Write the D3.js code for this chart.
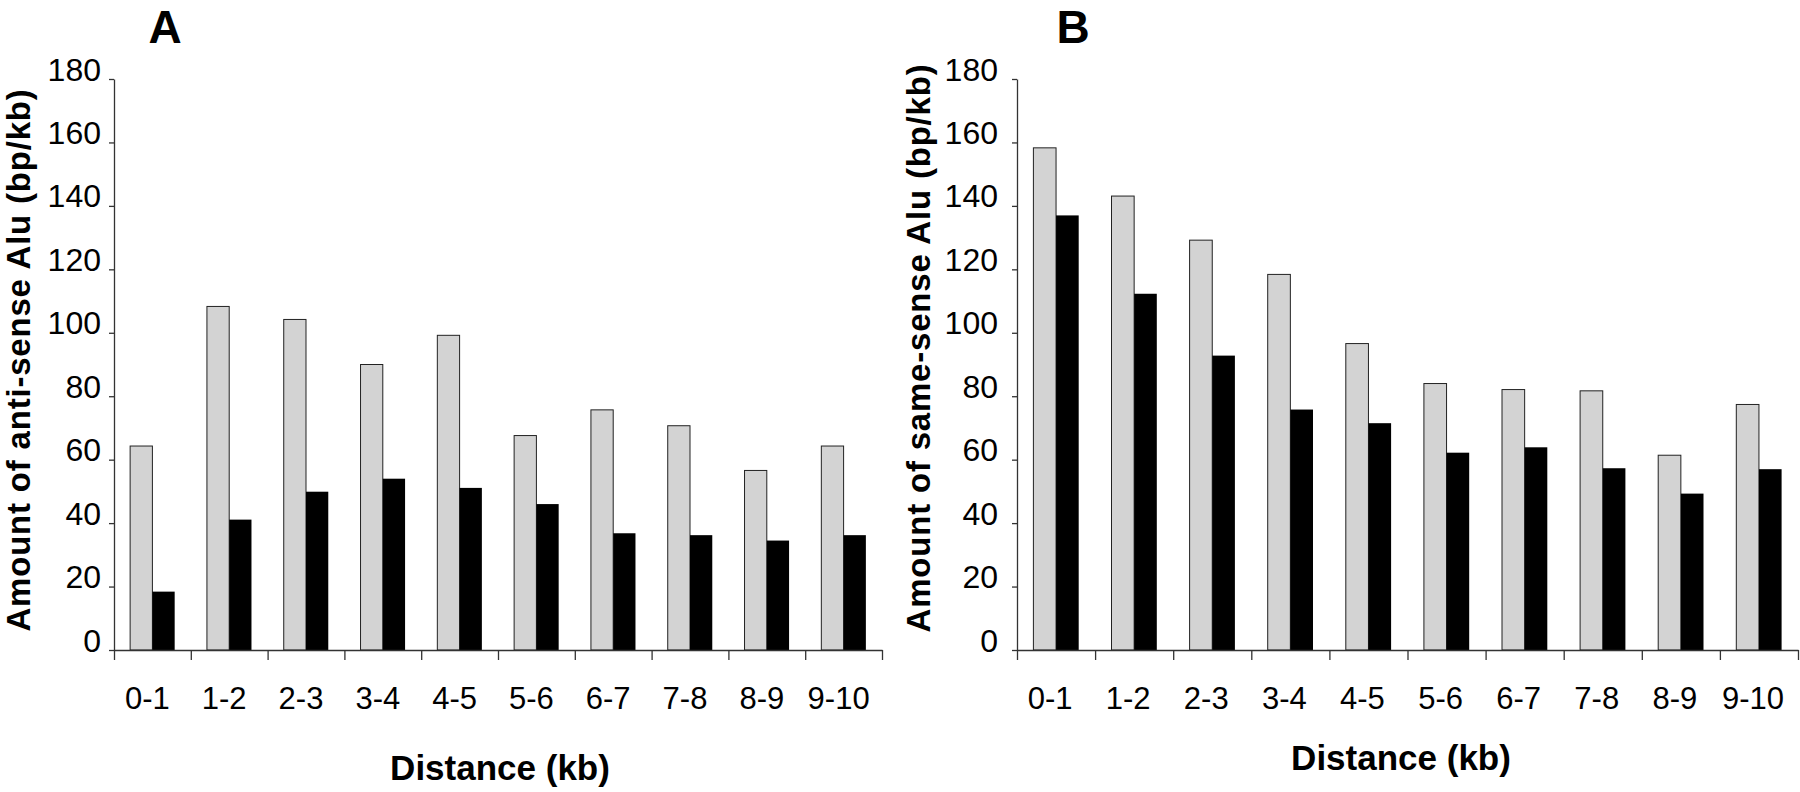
<!DOCTYPE html>
<html>
<head>
<meta charset="utf-8">
<script src="https://cdn.jsdelivr.net/npm/d3@7"></script>
<style>
  html, body { margin: 0; padding: 0; background: #fff; }
  svg text { fill: #000; font-family: "Liberation Sans", Arial, Helvetica, sans-serif; }
  .ylbl { font-size: 32px; }
  .xlbl { font-size: 31px; }
  .ttl { font-weight: bold; }
</style>
</head>
<body>
<svg id="chart" width="1800" height="792"></svg>
<script>
// distance bins (kb)
const distances = ["0-1", "1-2", "2-3", "3-4", "4-5", "5-6", "6-7", "7-8", "8-9", "9-10"];
// panel A, anti-sense Alu (bp/kb)
const antiGray  = [64.3, 108.3, 104.2, 90, 99.2, 67.6, 75.7, 70.7, 56.6, 64.3];
const antiBlack = [18.4, 41.1, 49.9, 54, 51.1, 46, 36.8, 36.2, 34.5, 36.2];
// panel B, same-sense Alu (bp/kb)
const sameGray  = [158.3, 143.1, 129.2, 118.4, 96.6, 84, 82.1, 81.7, 61.4, 77.4];
const sameBlack = [137, 112.3, 92.8, 75.8, 71.5, 62.2, 63.9, 57.3, 49.3, 57];
const yTicks = [0, 20, 40, 60, 80, 100, 120, 140, 160, 180];

const svg = d3.select("#chart");
svg.append("rect").attr("width", 1800).attr("height", 792).attr("fill", "#fff");

const y = d3.scaleLinear().domain([0, 180]).range([650, 79]);

function drawPanel(p) {
  const g = svg.append("g");

  const x0 = d3.scaleBand()
    .domain(distances)
    .range([p.left, p.right])
    .paddingInner(0.42)
    .paddingOuter(0.21);
  const x1 = d3.scaleBand()
    .domain(["gray", "black"])
    .range([0, x0.bandwidth()]);
  // tick marks sit on the bin edges
  const edges = d3.scaleLinear().domain([0, distances.length]).range([p.left, p.right]);

  const rows = distances.map((d, i) => ({ d, gray: p.gray[i], black: p.black[i] }));

  const grp = g.selectAll("g.bin")
    .data(rows)
    .enter().append("g")
    .attr("class", "bin")
    .attr("transform", d => `translate(${x0(d.d)},0)`);

  grp.append("rect")
    .attr("x", x1("gray"))
    .attr("y", d => y(d.gray))
    .attr("width", x1.bandwidth())
    .attr("height", d => y(0) - y(d.gray))
    .attr("fill", "#d3d3d3")
    .attr("stroke", "#222")
    .attr("stroke-width", 1);

  grp.append("rect")
    .attr("x", x1("black"))
    .attr("y", d => y(d.black))
    .attr("width", x1.bandwidth())
    .attr("height", d => y(0) - y(d.black))
    .attr("fill", "#000");

  // y axis
  const ya = g.append("g")
    .attr("transform", `translate(${p.left},0)`)
    .call(d3.axisLeft(y).tickValues(yTicks).tickSize(5).tickPadding(p.yPad).tickSizeOuter(0));
  ya.select(".domain").attr("stroke", "#333").attr("stroke-width", 1.3);
  ya.selectAll(".tick line").attr("stroke", "#333").attr("stroke-width", 1.3);
  ya.selectAll(".tick text")
    .attr("class", "ylbl")
    .attr("dy", 1);

  // x axis: edge ticks
  const xa = g.append("g")
    .attr("transform", `translate(0,${y(0)})`)
    .call(d3.axisBottom(edges).ticks(distances.length).tickSize(10).tickFormat("").tickSizeOuter(0));
  xa.select(".domain").attr("stroke", "#333").attr("stroke-width", 1.3);
  xa.selectAll(".tick line").attr("stroke", "#333").attr("stroke-width", 1.3);

  // x axis: bin labels
  const xl = g.append("g")
    .attr("transform", `translate(0,${y(0)})`)
    .call(d3.axisBottom(x0).tickSize(0).tickPadding(0));
  xl.select(".domain").remove();
  xl.selectAll(".tick text").attr("class", "xlbl")
    .attr("dx", p.labelDx)
    .attr("y", 59).attr("dy", 0);

  // titles
  g.append("text")
    .attr("class", "ttl")
    .attr("x", p.letterX).attr("y", 43)
    .attr("text-anchor", "middle")
    .style("font-size", "46px")
    .text(p.letter);

  g.append("text")
    .attr("class", "ttl")
    .attr("x", p.xTitleX).attr("y", p.xTitleY)
    .attr("text-anchor", "middle")
    .style("font-size", "35px")
    .text("Distance (kb)");

  g.append("text")
    .attr("class", "ttl")
    .attr("transform", `translate(${p.yTitleX},${p.yTitleY}) rotate(-90)`)
    .attr("text-anchor", "middle")
    .style("font-size", "33px")
    .style("letter-spacing", "0.8px")
    .text(p.yTitle);
}

drawPanel({
  left: 114, right: 882,
  gray: antiGray, black: antiBlack,
  letter: "A", letterX: 165,
  xTitleX: 500, xTitleY: 780,
  yTitleX: 30, yTitleY: 360,
  yTitle: "Amount of anti-sense Alu (bp/kb)",
  yPad: 8,
  labelDx: -5
});

drawPanel({
  left: 1017, right: 1798,
  gray: sameGray, black: sameBlack,
  letter: "B", letterX: 1073,
  xTitleX: 1401, xTitleY: 770,
  yTitleX: 930, yTitleY: 348,
  yTitle: "Amount of same-sense Alu (bp/kb)",
  yPad: 14,
  labelDx: -6
});
</script>
</body>
</html>
